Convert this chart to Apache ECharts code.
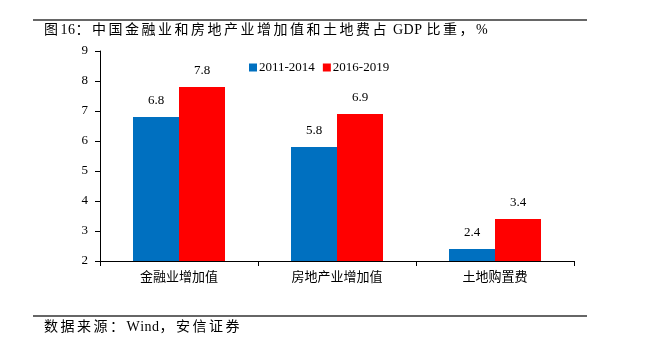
<!DOCTYPE html>
<html><head><meta charset="utf-8">
<script src="https://cdn.jsdelivr.net/npm/echarts@6/dist/echarts.min.js"></script>
<style>html,body{margin:0;padding:0;background:#fff}#c{width:648px;height:348px}</style>
</head><body><div id="c"></div>
<script>
const categories = ['金融业增加值', '房地产业增加值', '土地购置费'];
const seriesNames = ['2011-2014', '2016-2019'];
const s2011 = [6.8, 5.8, 2.4];
const s2016 = [7.8, 6.9, 3.4];
const titleText = '图16：中国金融业和房地产业增加值和土地费占 GDP 比重，%';
const sourceText = '数据来源：Wind，安信证券';

const FONT = '"Liberation Serif", "Noto Sans CJK SC", serif';

// letter-spaced text built from single characters
function spacedText(str, x, y, size, spacing) {
  const cv = document.createElement('canvas').getContext('2d');
  cv.font = size + 'px ' + FONT;
  const els = [];
  let cx = x;
  for (const ch of str) {
    const isCJK = /[\u3000-\u9fff\uff00-\uffef]/.test(ch);
    els.push({ type: 'text', x: cx, y: y, style: { text: ch, font: size + 'px ' + FONT, fill: '#000', textVerticalAlign: 'middle' } });
    cx += cv.measureText(ch).width + (isCJK ? spacing : 0.5);
  }
  return els;
}

const chart = echarts.init(document.getElementById('c'));
chart.setOption({
  animation: false,
  backgroundColor: '#fff',
  textStyle: { fontFamily: FONT },
  grid: { left: 100, right: 74, top: 51, bottom: 87 },
  legend: {
    data: seriesNames, top: 56, left: 244,
    itemWidth: 8, itemHeight: 8, itemGap: 8, icon: 'rect',
    textStyle: { fontFamily: FONT, fontSize: 13, color: '#000', padding: [0, 0, 0, -3] }
  },
  graphic: [
    { type: 'line', shape: { x1: 33, y1: 20, x2: 587, y2: 20 }, style: { stroke: '#333', lineWidth: 1.5 } },
    { type: 'line', shape: { x1: 33, y1: 316, x2: 587, y2: 316 }, style: { stroke: '#333', lineWidth: 1.5 } }
  ].concat(spacedText(titleText, 44, 30, 14, 2.5), spacedText(sourceText, 44, 327, 14, 2.5)),
  xAxis: {
    type: 'category', data: categories,
    axisLine: { lineStyle: { color: '#000', width: 1 } },
    axisTick: { show: true, length: 5, lineStyle: { color: '#000' } },
    axisLabel: { color: '#000', fontSize: 13, margin: 10, fontFamily: FONT }
  },
  yAxis: {
    type: 'value', min: 2, max: 9, interval: 1,
    splitLine: { show: false },
    axisLine: { show: true, lineStyle: { color: '#000', width: 1 } },
    axisTick: { show: true, length: 5, lineStyle: { color: '#000' } },
    axisLabel: { color: '#000', fontSize: 13, margin: 12, fontFamily: FONT }
  },
  series: [
    { name: seriesNames[0], type: 'bar', data: s2011, itemStyle: { color: '#0070C0' },
      barWidth: 46, barGap: '0%',
      label: { show: true, position: 'top', color: '#000', fontSize: 13, fontFamily: FONT, distance: 10, formatter: p => p.value.toFixed(1) } },
    { name: seriesNames[1], type: 'bar', data: s2016, itemStyle: { color: '#FF0000' },
      barWidth: 46, barGap: '0%',
      label: { show: true, position: 'top', color: '#000', fontSize: 13, fontFamily: FONT, distance: 10, formatter: p => p.value.toFixed(1) } }
  ]
});
</script></body></html>
